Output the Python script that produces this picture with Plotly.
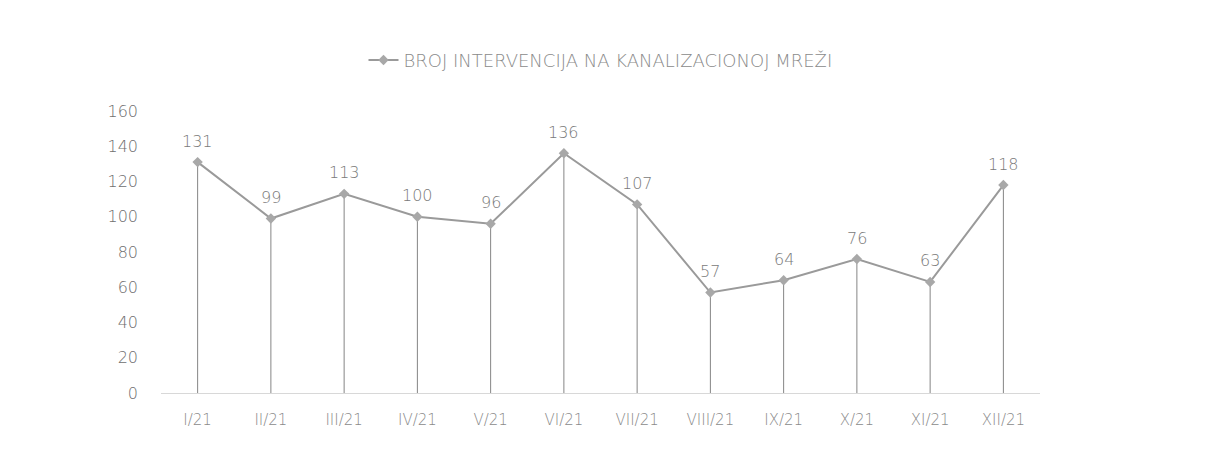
import plotly.graph_objects as go

months = ["I/21", "II/21", "III/21", "IV/21", "V/21", "VI/21",
          "VII/21", "VIII/21", "IX/21", "X/21", "XI/21", "XII/21"]
interventions = [131, 99, 113, 100, 96, 136, 107, 57, 64, 76, 63, 118]
y_ticks = [0, 20, 40, 60, 80, 100, 120, 140, 160]

line_color = "#9a9a9a"
text_color = "#7a7a7a"
font_family = "DejaVu Sans"

fig = go.Figure()

# line with markers, plus drop lines to zero done with asymmetric error bars
fig.add_trace(go.Scatter(
    x=months, y=interventions,
    mode="lines+markers",
    name="BROJ INTERVENCIJA NA KANALIZACIONOJ MREŽI",
    line=dict(color=line_color, width=2),
    marker=dict(symbol="diamond", size=8, color="#a8a8a8"),
    error_y=dict(type="data", symmetric=False,
                 array=[0] * len(interventions), arrayminus=interventions,
                 color="#858585", thickness=1, width=0),
))

# value labels above the points
for m, v in zip(months, interventions):
    fig.add_annotation(x=m, y=v, text=str(v), showarrow=False,
                       yshift=21, font=dict(size=16, color=text_color, weight=300))

# page body adds 8px, margins account for it
fig.update_layout(
    width=1207, height=475,
    template="simple_white",
    font=dict(family=font_family, color=text_color),
    margin=dict(l=153, r=175, t=103, b=90, autoexpand=False),
    showlegend=True,
    legend=dict(orientation="h", x=0.5, xanchor="center", y=1.18, yanchor="middle",
                font=dict(size=18, color="#8a8a8a", weight=300)),
    plot_bgcolor="white", paper_bgcolor="white",
)
fig.update_xaxes(range=[-0.5, 11.5], showline=True, linecolor="#d8d8d8", linewidth=1,
                 ticks="", tickfont=dict(size=15, color="#8a8a8a", weight=300),
                 ticklabelstandoff=13)
fig.update_yaxes(range=[0, 160], tickvals=y_ticks, showline=False, ticks="",
                 tickfont=dict(size=16, color="#6e6e6e", weight=300), ticklabelstandoff=22,
                 showgrid=False, zeroline=False)

fig.write_html("out.html")
